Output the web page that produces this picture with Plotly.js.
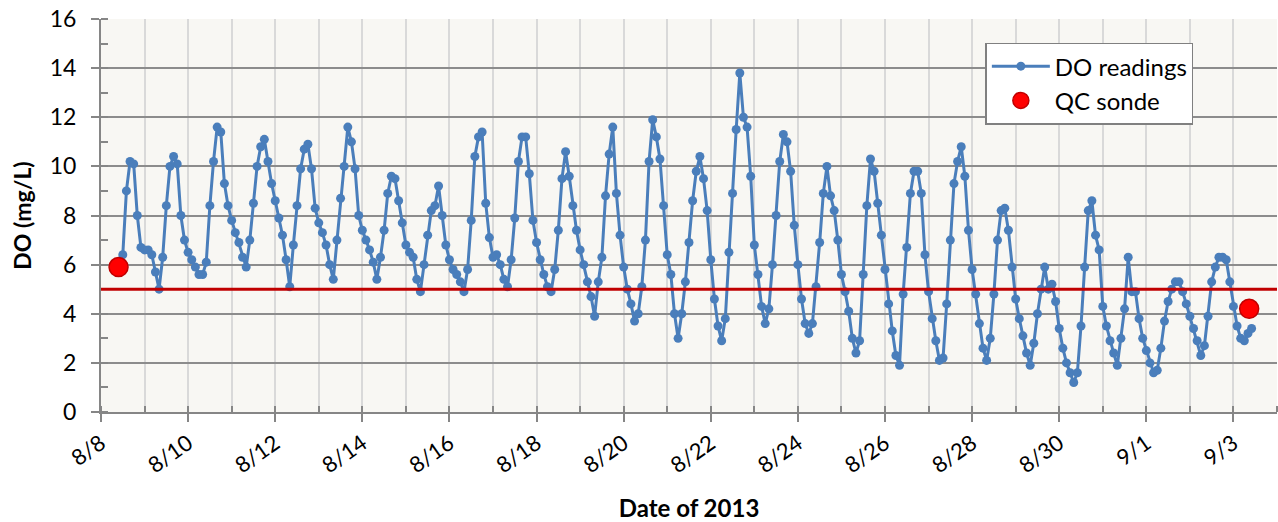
<!DOCTYPE html>
<html><head><meta charset="utf-8">
<script src="https://cdn.plot.ly/plotly-3.0.1.min.js"></script>
<style>html,body{margin:0;padding:0;background:#fff;}#chart{width:1278px;height:522px;}</style>
</head><body><div id="chart"></div>
<script>
// DO sonde readings, one value every 2 hours starting 8/8 12:00
const readingStartUTC = [2013, 7, 8, 12];
const readingStepHours = 2;
const doValues = [
  /* 8/8  */ 6.4, 9.0, 10.2, 10.1, 8.0, 6.7,
  /* 8/9  */ 6.6, 6.6, 6.4, 5.7, 5.0, 6.3, 8.4, 10.0, 10.4, 10.1, 8.0, 7.0,
  /* 8/10 */ 6.5, 6.2, 5.9, 5.6, 5.6, 6.1, 8.4, 10.2, 11.6, 11.4, 9.3, 8.4,
  /* 8/11 */ 7.8, 7.3, 6.9, 6.3, 5.9, 7.0, 8.5, 10.0, 10.8, 11.1, 10.2, 9.3,
  /* 8/12 */ 8.6, 7.9, 7.2, 6.2, 5.1, 6.8, 8.4, 9.9, 10.7, 10.9, 9.9, 8.3,
  /* 8/13 */ 7.7, 7.3, 6.8, 6.0, 5.4, 7.0, 8.7, 10.0, 11.6, 11.0, 9.9, 8.0,
  /* 8/14 */ 7.4, 7.0, 6.6, 6.1, 5.4, 6.3, 7.4, 8.9, 9.6, 9.5, 8.6, 7.7,
  /* 8/15 */ 6.8, 6.5, 6.3, 5.4, 4.9, 6.0, 7.2, 8.2, 8.4, 9.2, 8.0, 6.8,
  /* 8/16 */ 6.2, 5.8, 5.6, 5.3, 4.9, 5.8, 7.8, 10.4, 11.2, 11.4, 8.5, 7.1,
  /* 8/17 */ 6.3, 6.4, 6.0, 5.4, 5.1, 6.2, 7.9, 10.2, 11.2, 11.2, 9.7, 7.8,
  /* 8/18 */ 6.9, 6.2, 5.6, 5.1, 4.9, 5.8, 7.4, 9.5, 10.6, 9.6, 8.4, 7.4,
  /* 8/19 */ 6.6, 6.0, 5.3, 4.7, 3.9, 5.3, 6.3, 8.8, 10.5, 11.6, 8.9, 7.2,
  /* 8/20 */ 5.9, 5.0, 4.4, 3.7, 4.0, 5.1, 7.0, 10.2, 11.9, 11.2, 10.3, 8.4,
  /* 8/21 */ 6.4, 5.6, 4.0, 3.0, 4.0, 5.3, 6.9, 8.6, 9.8, 10.4, 9.5, 8.2,
  /* 8/22 */ 6.2, 4.6, 3.5, 2.9, 3.8, 6.5, 8.9, 11.5, 13.8, 12.0, 11.6, 9.6,
  /* 8/23 */ 6.8, 5.6, 4.3, 3.6, 4.2, 6.0, 8.0, 10.2, 11.3, 11.0, 9.8, 7.6,
  /* 8/24 */ 6.0, 4.6, 3.6, 3.2, 3.6, 5.1, 6.9, 8.9, 10.0, 8.8, 8.2, 7.0,
  /* 8/25 */ 5.6, 4.9, 4.1, 3.0, 2.4, 2.9, 5.6, 8.4, 10.3, 9.8, 8.5, 7.2,
  /* 8/26 */ 5.8, 4.4, 3.3, 2.3, 1.9, 4.8, 6.7, 8.9, 9.8, 9.8, 8.9, 6.4,
  /* 8/27 */ 4.9, 3.8, 2.9, 2.1, 2.2, 4.4, 7.0, 9.3, 10.2, 10.8, 9.6, 7.4,
  /* 8/28 */ 5.8, 4.8, 3.6, 2.6, 2.1, 3.0, 4.8, 7.0, 8.2, 8.3, 7.4, 5.9,
  /* 8/29 */ 4.6, 3.8, 3.1, 2.4, 1.9, 2.8, 4.0, 5.0, 5.9, 5.0, 5.2, 4.5,
  /* 8/30 */ 3.4, 2.6, 2.0, 1.6, 1.2, 1.6, 3.5, 5.9, 8.2, 8.6, 7.2, 6.6,
  /* 8/31 */ 4.3, 3.5, 2.9, 2.4, 1.9, 3.0, 4.2, 6.3, 4.9, 4.9, 3.8, 3.0,
  /* 9/1  */ 2.5, 2.0, 1.6, 1.7, 2.6, 3.7, 4.5, 5.0, 5.3, 5.3, 4.9, 4.4,
  /* 9/2  */ 3.9, 3.4, 2.9, 2.3, 2.7, 3.9, 5.3, 5.9, 6.3, 6.3, 6.2, 5.3,
  /* 9/3  */ 4.3, 3.5, 3.0, 2.9, 3.2, 3.4
];

// QC sonde spot checks
const qcTimes = ['2013-08-08 09:40', '2013-09-03 08:40'];
const qcValues = [5.9, 4.2];

// DO standard line (mg/L)
const doStandard = 5;

const xRange = ['2013-08-08', '2013-09-04'];
const yRange = [0, 16];

const seriesNames = ['DO readings', 'QC sonde'];
const xTitle = 'Date of 2013';
const yTitle = 'DO (mg/L)';

function fmt(ms) {
  return new Date(ms).toISOString().slice(0, 16).replace('T', ' ');
}
const t0 = Date.UTC.apply(null, readingStartUTC);
const doTimes = doValues.map((v, i) => fmt(t0 + i * readingStepHours * 3600000));

const traces = [
  {
    x: doTimes, y: doValues, type: 'scatter', mode: 'lines+markers',
    name: seriesNames[0],
    line: {color: '#4a7ebb', width: 3},
    marker: {color: '#4a7ebb', size: 9}
  },
  {
    x: qcTimes, y: qcValues, type: 'scatter', mode: 'markers',
    name: seriesNames[1],
    marker: {color: '#ff0000', size: 19, line: {color: '#c00000', width: 1.5}}
  }
];

const axisGray = '#868686';
const layout = {
  width: 1278, height: 522,
  margin: {l: 101, r: 1, t: 19, b: 110},
  paper_bgcolor: '#ffffff',
  plot_bgcolor: '#f8f7f3',
  font: {family: 'Lato, "Open Sans", sans-serif', size: 21, color: '#000'},
  showlegend: true,
  legend: {
    x: 0.752, y: 0.94, xanchor: 'left', yanchor: 'top',
    bgcolor: '#ffffff', bordercolor: '#808080', borderwidth: 1.5,
    font: {size: 24}, itemwidth: 58, tracegroupgap: 0
  },
  xaxis: {
    type: 'date', range: xRange, tick0: xRange[0], dtick: 172800000,
    tickformat: '%-m/%-d', tickangle: -35,
    ticks: 'outside', ticklen: 8, tickwidth: 2, tickcolor: axisGray,
    showline: true, linecolor: axisGray, linewidth: 2,
    showgrid: true, gridcolor: '#d9d9d9', gridwidth: 2, zeroline: false,
    minor: {dtick: 86400000, ticks: 'inside', ticklen: 6, tickwidth: 2, tickcolor: axisGray,
            showgrid: true, gridcolor: '#d9d9d9', gridwidth: 2},
    tickfont: {size: 22},
    title: {text: '<b>' + xTitle + '</b>', font: {size: 24}, standoff: 24}
  },
  yaxis: {
    range: yRange, dtick: 2, tick0: 0,
    ticks: 'outside', ticklen: 8, tickwidth: 2, tickcolor: axisGray,
    showline: true, linecolor: axisGray, linewidth: 2,
    showgrid: true, gridcolor: '#8c8c8c', gridwidth: 2, zeroline: false,
    minor: {dtick: 1, ticks: 'inside', ticklen: 7, tickwidth: 2, tickcolor: axisGray, showgrid: false},
    tickfont: {size: 23},
    ticklabelstandoff: 10,
    title: {text: '<b>' + yTitle + '</b>', font: {size: 23}, standoff: 12}
  },
  shapes: [{
    type: 'line', xref: 'paper', x0: 0, x1: 1, yref: 'y', y0: doStandard, y1: doStandard,
    line: {color: '#c00000', width: 3}
  }]
};

Plotly.newPlot('chart', traces, layout, {displayModeBar: false, staticPlot: true});
</script>
</body></html>
